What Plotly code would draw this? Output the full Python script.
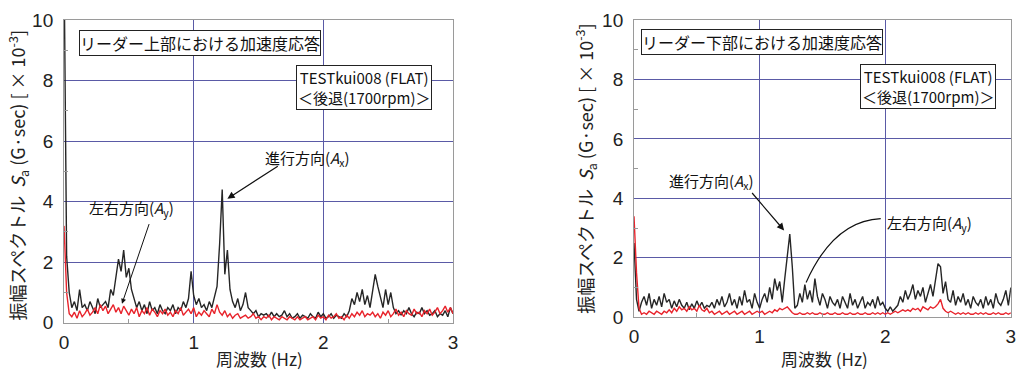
import plotly.graph_objects as go

# frequency axis (Hz), 0.02 Hz step, 0..3
freq = [round(i * 0.02, 2) for i in range(151)]

# Upper part of leader: black = 進行方向 (Ax), red = 左右方向 (Ay)
upper_ax = [
    12, 2.2, 1.0, 0.5, 0.7, 0.4, 1.1, 0.5, 0.6, 0.4,
    0.7, 0.5, 0.3, 0.8, 0.5, 0.6, 0.7, 0.5, 1.1, 0.9,
    1.6, 2.1, 1.7, 2.4, 1.5, 1.8, 1.1, 0.8, 0.5, 0.7,
    0.4, 0.6, 0.3, 0.7, 0.4, 0.5, 0.3, 0.6, 0.4, 0.3,
    0.5, 0.4, 0.6, 0.3, 0.5, 0.4, 0.7, 0.5, 0.8, 1.7,
    0.9, 0.6, 0.8, 0.5, 0.6, 0.4, 0.7, 0.5, 0.9, 1.2,
    2.6, 4.4, 1.6, 2.4, 1.1, 0.7, 0.5, 0.8, 0.4, 0.6,
    1.0, 0.5, 0.4, 0.3, 0.4, 0.2, 0.3, 0.25, 0.3, 0.2,
    0.35, 0.2, 0.3, 0.2, 0.25, 0.4, 0.2, 0.3, 0.15, 0.2,
    0.3, 0.15, 0.25, 0.2, 0.15, 0.3, 0.2, 0.15, 0.35, 0.2,
    0.3, 0.15, 0.2, 0.3, 0.15, 0.25, 0.2, 0.15, 0.3, 0.2,
    0.4, 0.8, 0.6, 1.0, 0.7, 1.1, 0.6, 0.9, 0.5, 1.0,
    1.6, 1.2, 0.8, 0.5, 1.1, 0.6, 1.0, 0.5, 0.3, 0.4,
    0.25, 0.4, 0.3, 0.5, 0.3, 0.2, 0.35, 0.3, 0.5, 0.3,
    0.4, 0.25, 0.3, 0.4, 0.2, 0.3, 0.25, 0.4, 0.2, 0.5,
    0.3,
]
upper_ay = [
    3.2, 1.0, 0.3, 0.2, 0.35, 0.15, 0.4, 0.2, 0.3, 0.45,
    0.25, 0.35, 0.5, 0.3, 0.6, 0.4, 0.55, 0.3, 0.45, 0.6,
    0.35, 0.5, 0.3, 0.55, 0.4, 0.25, 0.45, 0.3, 0.5, 0.2,
    0.4, 0.3, 0.5, 0.25, 0.45, 0.35, 0.2, 0.4, 0.3, 0.45,
    0.25, 0.35, 0.2, 0.4, 0.3, 0.5, 0.25, 0.35, 0.45, 0.3,
    0.5, 0.2, 0.35, 0.25, 0.4, 0.3, 0.2, 0.45, 0.3, 0.6,
    0.35, 0.25, 0.4, 0.2, 0.3, 0.15, 0.25, 0.3, 0.15, 0.2,
    0.25, 0.15, 0.2, 0.3, 0.15, 0.2, 0.1, 0.2, 0.15, 0.25,
    0.1, 0.2, 0.15, 0.1, 0.2, 0.15, 0.1, 0.2, 0.15, 0.1,
    0.2, 0.1, 0.15, 0.2, 0.1, 0.15, 0.2, 0.1, 0.25, 0.15,
    0.2, 0.1, 0.25, 0.15, 0.2, 0.3, 0.15, 0.2, 0.1, 0.25,
    0.15, 0.3, 0.2, 0.35, 0.25, 0.4, 0.2, 0.3, 0.25, 0.35,
    0.2, 0.3, 0.15, 0.35, 0.25, 0.4, 0.2, 0.3, 0.45, 0.25,
    0.35, 0.2, 0.4, 0.3, 0.25, 0.45, 0.3, 0.35, 0.2, 0.4,
    0.3, 0.45, 0.25, 0.35, 0.5, 0.3, 0.4, 0.55, 0.35, 0.5,
    0.3,
]

# Lower part of leader
lower_ax = [
    2.5, 0.6, 0.2, 0.5, 0.7, 0.4, 0.8, 0.3, 0.6, 0.4,
    0.7, 0.35, 0.8, 0.5, 0.6, 0.3, 0.55, 0.35, 0.6, 0.4,
    0.3, 0.5, 0.25, 0.45, 0.3, 0.55, 0.35, 0.5, 0.3, 0.4,
    0.35, 0.5, 0.3, 0.6, 0.4, 0.7, 0.35, 0.5, 0.8, 0.4,
    0.6, 0.3, 0.7, 0.4, 0.9, 0.5, 0.6, 0.3, 0.8, 0.5,
    0.3, 0.6, 0.8, 0.5, 1.0, 0.6, 1.3, 0.9, 1.2, 0.5,
    1.3, 2.1, 2.8, 1.7, 0.3, 0.4, 0.8, 0.5, 1.1, 0.6,
    0.9, 0.5, 1.3, 0.7, 0.4, 0.8, 0.6, 0.3, 0.7, 0.5,
    0.4, 0.6, 0.3, 0.7, 0.5, 0.3, 0.8, 0.4, 0.6, 0.3,
    0.5, 0.7, 0.3, 0.5, 0.4, 0.6, 0.3, 0.7, 0.4, 0.5,
    0.3, 0.2, 0.35, 0.2, 0.3, 0.4, 0.7, 0.5, 0.9, 0.6,
    0.8, 1.1, 0.6, 0.9, 0.7, 1.0, 0.5, 0.8, 1.1, 0.7,
    1.2, 1.8, 1.7, 0.8, 1.2, 0.6, 0.5, 0.9, 0.4, 0.7,
    0.5, 0.8, 0.4, 0.6, 0.3, 0.7, 0.5, 0.4, 0.6, 0.3,
    0.7, 0.4, 0.6, 0.3, 0.8, 0.5, 0.4, 0.6, 0.9, 0.4,
    1.0,
]
lower_ay = [
    3.4, 1.5, 0.3, 0.1, 0.15, 0.1, 0.2, 0.15, 0.1, 0.2,
    0.15, 0.1, 0.2, 0.15, 0.25, 0.15, 0.3, 0.2, 0.35, 0.25,
    0.3, 0.2, 0.35, 0.25, 0.3, 0.2, 0.4, 0.25, 0.2, 0.3,
    0.15, 0.2, 0.1, 0.15, 0.2, 0.1, 0.15, 0.2, 0.1, 0.15,
    0.2, 0.1, 0.15, 0.2, 0.1, 0.15, 0.2, 0.1, 0.15, 0.2,
    0.15, 0.2, 0.1, 0.15, 0.2, 0.15, 0.25, 0.2, 0.3, 0.25,
    0.3, 0.35, 0.25, 0.15, 0.1, 0.1, 0.15, 0.1, 0.1, 0.15,
    0.1, 0.15, 0.1, 0.1, 0.15, 0.1, 0.1, 0.15, 0.1, 0.1,
    0.15, 0.1, 0.1, 0.15, 0.1, 0.1, 0.15, 0.1, 0.1, 0.15,
    0.1, 0.1, 0.15, 0.1, 0.1, 0.15, 0.1, 0.15, 0.1, 0.15,
    0.1, 0.15, 0.1, 0.15, 0.2, 0.15, 0.2, 0.25, 0.2, 0.25,
    0.2, 0.3, 0.25, 0.3, 0.2, 0.35, 0.3, 0.25, 0.35, 0.3,
    0.35, 0.45, 0.6, 0.3, 0.2, 0.15, 0.2, 0.15, 0.1, 0.15,
    0.1, 0.15, 0.1, 0.15, 0.1, 0.1, 0.15, 0.1, 0.15, 0.1,
    0.15, 0.1, 0.1, 0.15, 0.1, 0.15, 0.1, 0.1, 0.15, 0.1,
    0.15,
]

x_ticks = [0, 1, 2, 3]
y_ticks = [0, 2, 4, 6, 8, 10]

titles = ["リーダー上部における加速度応答", "リーダー下部における加速度応答"]
test_label = "TESTkui008 (FLAT)<br>＜後退(1700rpm)＞"
x_title = "周波数 (Hz)"
y_titles = [
    "振幅スペクトル  <i>S</i><sub>a</sub> (G·sec) [ × 10<sup>-3</sup>]",
    "振幅スペクトル  <i>S</i><sub>a</sub> (G·sec) [ × 10<sup>-3</sup>]",
]

BLACK = "#262626"
RED = "#e8232b"
GRID = "#5a5aa6"
JP = "Noto Sans CJK JP"
LAT = "Liberation Sans, Arial, sans-serif"

fig = go.Figure()
fig.add_trace(go.Scatter(x=freq, y=upper_ax, mode="lines", line=dict(color=BLACK, width=1.4), xaxis="x", yaxis="y"))
fig.add_trace(go.Scatter(x=freq, y=upper_ay, mode="lines", line=dict(color=RED, width=1.4), xaxis="x", yaxis="y"))
fig.add_trace(go.Scatter(x=freq, y=lower_ax, mode="lines", line=dict(color=BLACK, width=1.4), xaxis="x2", yaxis="y2"))
fig.add_trace(go.Scatter(x=freq, y=lower_ay, mode="lines", line=dict(color=RED, width=1.4), xaxis="x2", yaxis="y2"))

def xax(domain, anchor):
    return dict(domain=domain, anchor=anchor, range=[0, 3], tickvals=x_ticks,
                showgrid=True, gridcolor=GRID, gridwidth=1.2, zeroline=False,
                showline=True, linecolor="#9a9a9a", linewidth=1, mirror=True,
                ticks="", ticklabelstandoff=2, ticklabeloverflow="allow",
                tickfont=dict(family=LAT, size=19, color="#222"),
                minor=dict(tickvals=[0.5, 1.5, 2.5], ticks="inside", ticklen=4, tickcolor="#999", showgrid=False),
                automargin=False, fixedrange=True)

def yax(domain, anchor):
    return dict(domain=domain, anchor=anchor, range=[0, 10], tickvals=y_ticks,
                showgrid=True, gridcolor=GRID, gridwidth=1.2, zeroline=False,
                showline=True, linecolor="#9a9a9a", linewidth=1, mirror=True,
                ticks="", ticklabelstandoff=6, ticklabeloverflow="allow",
                tickfont=dict(family=LAT, size=19, color="#222"),
                minor=dict(tickvals=[1, 3, 5, 7, 9], ticks="inside", ticklen=4, tickcolor="#999", showgrid=False),
                automargin=False, fixedrange=True)

annotations = []
for i, (xr, yr, xc) in enumerate([("x", "y", 0.255), ("x2", "y2", 0.810)]):
    annotations.append(dict(x=1.05 if i == 0 else 1.02, y=9.25, xref=xr, yref=yr, text=titles[i], showarrow=False,
                            font=dict(family=JP, size=16, color="#111"), bordercolor="#222", borderwidth=1,
                            borderpad=0, bgcolor="white"))
    annotations.append(dict(x=2.31 if i == 0 else 2.34, y=7.78, xref=xr, yref=yr, text=test_label, showarrow=False,
                            font=dict(family=JP, size=15, color="#111"), bordercolor="#222", borderwidth=1,
                            borderpad=1, bgcolor="white"))
    annotations.append(dict(x=xc, y=0.034, xref="paper", yref="paper", xanchor="center", yanchor="middle",
                            text=x_title, showarrow=False, font=dict(family=JP, size=17, color="#222")))

annotations.append(dict(x=0.0177, y=0.527, xref="paper", yref="paper", xanchor="center", yanchor="middle",
                        text=y_titles[0], textangle=-90,
                        showarrow=False, font=dict(family=JP, size=18, color="#222")))
annotations.append(dict(x=0.5747, y=0.545, xref="paper", yref="paper", xanchor="center", yanchor="middle",
                        text=y_titles[1], textangle=-90,
                        showarrow=False, font=dict(family=JP, size=18, color="#222")))

lab_font = dict(family=JP, size=15, color="#111")
ax_lab = "進行方向(<i>A</i><sub>x</sub>)"
ay_lab = "左右方向(<i>A</i><sub>y</sub>)"
# upper panel labels + arrows
annotations += [
    dict(x=1.88, y=5.43, xref="x", yref="y", text=ax_lab, showarrow=False, font=lab_font),
    dict(x=1.26, y=4.1, ax=1.66, ay=5.2, xref="x", yref="y", axref="x", ayref="y", text="",
         showarrow=True, arrowhead=2, arrowsize=1.2, arrowwidth=1.2, arrowcolor="#111"),
    dict(x=0.52, y=3.77, xref="x", yref="y", text=ay_lab, showarrow=False, font=lab_font),
    dict(x=0.447, y=0.63, ax=0.66, ay=3.31, xref="x", yref="y", axref="x", ayref="y", text="",
         showarrow=True, arrowhead=2, arrowsize=1.0, arrowwidth=1.0, arrowcolor="#111"),
    # lower panel
    dict(x=0.62, y=4.56, xref="x2", yref="y2", text=ax_lab, showarrow=False, font=lab_font),
    dict(x=1.195, y=2.92, ax=0.93, ay=4.23, xref="x2", yref="y2", axref="x2", ayref="y2", text="",
         showarrow=True, arrowhead=2, arrowsize=1.2, arrowwidth=1.2, arrowcolor="#111"),
    dict(x=2.35, y=3.15, xref="x2", yref="y2", text=ay_lab, showarrow=False, font=lab_font),
]

shapes = [dict(type="path", xref="x2", yref="y2", path="M 1.964,3.32 Q 1.59,3.25 1.37,1.17",
               line=dict(color="#111", width=1.2))]

fig.update_layout(
    width=1018, height=371, margin=dict(l=0, r=0, t=0, b=0),
    paper_bgcolor="white", plot_bgcolor="white", showlegend=False,
    xaxis=xax([0.0629, 0.445], "y"), yaxis=yax([0.130, 0.946], "x"),
    xaxis2=xax([0.6228, 0.993], "y2"), yaxis2=yax([0.145, 0.946], "x2"),
    annotations=annotations, shapes=shapes,
)
fig.write_html("out.html")
